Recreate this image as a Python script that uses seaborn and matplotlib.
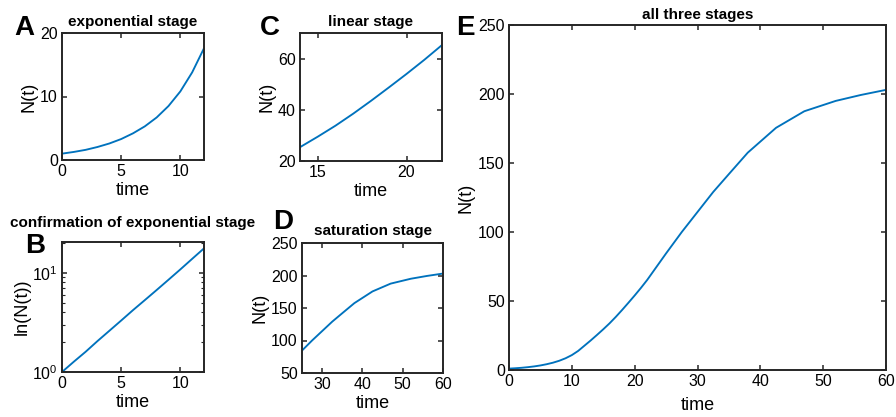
import numpy as np
import pandas as pd
import matplotlib
matplotlib.use("Agg")
import matplotlib.pyplot as plt
import seaborn as sns
from matplotlib.ticker import LogLocator, FixedLocator, NullFormatter

# ---- data ----
time = [0, 1, 2, 3, 4, 5, 6, 7, 8, 9, 10, 11, 12, 13, 14, 15, 16, 17, 18, 19, 20, 21, 22,
        25, 27.5, 30, 32.5, 35, 38, 42.5, 47, 52, 56, 60]
N = [1.0, 1.27, 1.6, 2.05, 2.6, 3.3, 4.2, 5.3, 6.7, 8.5, 10.8, 13.8, 17.6, 21.4, 25.4,
     29.5, 33.8, 38.5, 43.5, 48.7, 54.0, 59.5, 65.3,
     84.5, 100.0, 114.5, 129.0, 142.0, 157.5, 175.5, 187.5, 195.0, 199.3, 203.0]

titles = ["exponential stage", "confirmation of exponential stage", "linear stage",
          "saturation stage", "all three stages"]
letters = ["A", "B", "C", "D", "E"]

df = pd.DataFrame({"time": time, "N": N})

sns.set_theme(style="ticks")
plt.rcParams["font.family"] = ["Liberation Sans", "DejaVu Sans"]
plt.rcParams["mathtext.fontset"] = "custom"
plt.rcParams["mathtext.rm"] = "Liberation Sans"
plt.rcParams["mathtext.it"] = "Liberation Sans:italic"
plt.rcParams["mathtext.bf"] = "Liberation Sans:bold"
plt.rcParams["text.color"] = "black"
plt.rcParams["axes.labelcolor"] = "black"

W, H = 896, 417
fig = plt.figure(figsize=(W / 100, H / 100), dpi=100)
fig.patch.set_facecolor("white")

def make_ax(l, r, t, b):
    return fig.add_axes([l / W, 1 - b / H, (r - l) / W, (b - t) / H])

line_color = "#0072BD"
ink = "#262626"
tick_fs = 11.5
lab_fs = 13
title_fs = 11

def style(ax):
    for s in ax.spines.values():
        s.set_linewidth(1.4)
        s.set_color(ink)
        s.set_visible(True)
    ax.tick_params(direction="in", top=True, right=True, length=3.5, width=1.1,
                   colors=ink, labelcolor="black", labelsize=tick_fs, pad=3)
    ax.set_facecolor("white")

def draw(ax, lo, hi):
    sub = df[(df["time"] >= lo) & (df["time"] <= hi)]
    sns.lineplot(data=sub, x="time", y="N", ax=ax, color=line_color, linewidth=1.35)

def titl(ax, s, pad):
    ax.set_title(s, fontsize=title_fs, fontweight="bold", pad=pad, color="black")

# Panel A
axA = make_ax(62, 204, 33, 160)
draw(axA, 0, 12)
axA.set_xlim(0, 12); axA.set_ylim(0, 20)
axA.set_xticks([0, 5, 10]); axA.set_yticks([0, 10, 20])
style(axA)
axA.set_xlabel("time", fontsize=lab_fs, labelpad=2)
axA.set_ylabel("N(t)", fontsize=lab_fs, labelpad=2)
titl(axA, titles[0], 5)

# Panel B
axB = make_ax(62, 204, 242, 372)
draw(axB, 0, 12)
axB.set_yscale("log")
axB.set_xlim(0, 12); axB.set_ylim(1, 20.4)
axB.set_xticks([0, 5, 10])
axB.yaxis.set_major_locator(FixedLocator([1, 10]))
axB.yaxis.set_minor_locator(LogLocator(base=10, subs=np.arange(2, 10)))
axB.yaxis.set_minor_formatter(NullFormatter())
style(axB)
axB.tick_params(which="minor", direction="in", left=True, right=True, length=2,
                width=0.8, colors=ink)
axB.set_xlabel("time", fontsize=lab_fs, labelpad=2)
axB.set_ylabel("ln(N(t))", fontsize=lab_fs, labelpad=1)
titl(axB, titles[1], 11)

# Panel C
axC = make_ax(300, 442, 33, 161)
draw(axC, 14, 22)
axC.set_xlim(14, 22); axC.set_ylim(20, 70)
axC.set_xticks([15, 20]); axC.set_yticks([20, 40, 60])
style(axC)
axC.set_xlabel("time", fontsize=lab_fs, labelpad=2)
axC.set_ylabel("N(t)", fontsize=lab_fs, labelpad=2)
titl(axC, titles[2], 5)

# Panel D
axD = make_ax(302, 443, 243, 373)
draw(axD, 25, 60)
axD.set_xlim(25, 60); axD.set_ylim(50, 250)
axD.set_xticks([30, 40, 50, 60]); axD.set_yticks([50, 100, 150, 200, 250])
style(axD)
axD.set_xlabel("time", fontsize=lab_fs, labelpad=2)
axD.set_ylabel("N(t)", fontsize=lab_fs, labelpad=2)
titl(axD, titles[3], 6)

# Panel E
axE = make_ax(509, 886, 25, 370)
draw(axE, 0, 60)
axE.set_xlim(0, 60); axE.set_ylim(0, 250)
axE.set_xticks(range(0, 61, 10)); axE.set_yticks(range(0, 251, 50))
style(axE)
axE.set_xlabel("time", fontsize=lab_fs, labelpad=6)
axE.set_ylabel("N(t)", fontsize=lab_fs, labelpad=3)
titl(axE, titles[4], 4)

# Panel letters
letter_pos = [(24, 28), (35, 246), (270, 28), (283, 222), (465, 28)]
for let, (x, y) in zip(letters, letter_pos):
    fig.text(x / W, 1 - y / H, let, fontsize=20, fontweight="bold",
             ha="center", va="center", color="black")

fig.savefig("out.png", dpi=100, facecolor="white")
